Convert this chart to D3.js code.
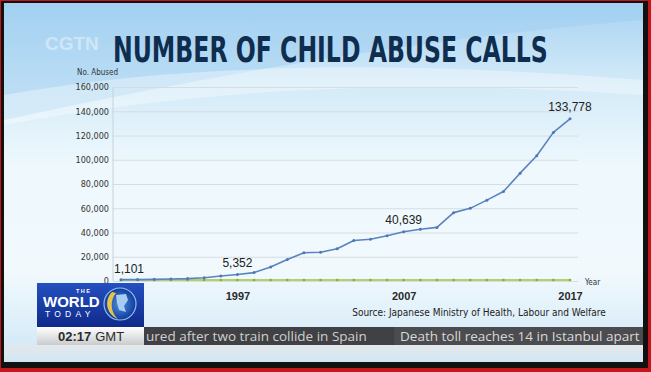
<!DOCTYPE html>
<html>
<head>
<meta charset="utf-8">
<script src="https://cdn.jsdelivr.net/npm/d3@7"></script>
<style>
  body { margin: 0; background: #000; }
  svg { display: block; }
</style>
</head>
<body>
<div id="chart"></div>
<script>
var years = [1990, 1991, 1992, 1993, 1994, 1995, 1996, 1997, 1998, 1999,
             2000, 2001, 2002, 2003, 2004, 2005, 2006, 2007, 2008, 2009,
             2010, 2011, 2012, 2013, 2014, 2015, 2016, 2017];
var calls = [1101, 1171, 1372, 1611, 1961, 2722, 4102, 5352, 6932, 11631,
             17725, 23274, 23738, 26569, 33408, 34472, 37323, 40639, 42664, 44211,
             56384, 59919, 66701, 73802, 88931, 103286, 122575, 133778];
// flat green series along the baseline
var baseline = [0, 0, 0, 0, 0, 0, 0, 0, 0, 0,
                0, 0, 0, 0, 0, 0, 0, 0, 0, 0,
                0, 0, 0, 0, 0, 0, 0, 0];
var yTicks = [0, 20000, 40000, 60000, 80000, 100000, 120000, 140000, 160000];
var xTicks = [1997, 2007, 2017];
var labelYears = [1990, 1997, 2007, 2017];

var title = "NUMBER OF CHILD ABUSE CALLS";
var source = "Source: Japanese Ministry of Health, Labour and Welfare";
var ticker1 = "ured after two train collide in Spain";
var ticker2 = "Death toll reaches 14 in Istanbul apart";

var W = 651, H = 372;
var narrow = "'Liberation Sans Narrow', 'DejaVu Sans Condensed', 'Arial Narrow', sans-serif";
var sans = "'Liberation Sans', Arial, sans-serif";

var svg = d3.select("#chart").append("svg")
    .attr("width", W).attr("height", H);

var defs = svg.append("defs");

var bg = defs.append("linearGradient").attr("id", "bg")
    .attr("x1", 0).attr("y1", 0).attr("x2", 0).attr("y2", 1);
bg.append("stop").attr("offset", "0%").attr("stop-color", "#a9d3f3");
bg.append("stop").attr("offset", "22%").attr("stop-color", "#d2eaf8");
bg.append("stop").attr("offset", "45%").attr("stop-color", "#eef8fd");
bg.append("stop").attr("offset", "75%").attr("stop-color", "#f1f9fd");
bg.append("stop").attr("offset", "100%").attr("stop-color", "#cfe7f6");

var logoGrad = defs.append("linearGradient").attr("id", "logoGrad")
    .attr("x1", 0).attr("y1", 0).attr("x2", 0).attr("y2", 1);
logoGrad.append("stop").attr("offset", "0%").attr("stop-color", "#2450c0");
logoGrad.append("stop").attr("offset", "100%").attr("stop-color", "#0f2a8a");

var timeGrad = defs.append("linearGradient").attr("id", "timeGrad")
    .attr("x1", 0).attr("y1", 0).attr("x2", 0).attr("y2", 1);
timeGrad.append("stop").attr("offset", "0%").attr("stop-color", "#ffffff");
timeGrad.append("stop").attr("offset", "100%").attr("stop-color", "#c9cbcd");

var globeGrad = defs.append("radialGradient").attr("id", "globeGrad");
globeGrad.append("stop").attr("offset", "0%").attr("stop-color", "#4d8fe0");
globeGrad.append("stop").attr("offset", "100%").attr("stop-color", "#123a9a");

var underGrad = defs.append("linearGradient").attr("id", "underGrad")
    .attr("x1", 0).attr("y1", 0).attr("x2", 0).attr("y2", 1);
underGrad.append("stop").attr("offset", "0%").attr("stop-color", "#e4e8ea");
underGrad.append("stop").attr("offset", "100%").attr("stop-color", "#cfe7f6");

// tv frame
svg.append("rect").attr("width", W).attr("height", H).attr("fill", "#c4161c");
svg.append("rect").attr("x", 1).attr("y", 1).attr("width", 647).attr("height", 367).attr("fill", "#111");
svg.append("rect").attr("x", 4).attr("y", 3).attr("width", 639).attr("height", 359).attr("fill", "url(#bg)");

// soft swoosh behind the title
svg.append("path")
    .attr("d", "M4,3 L643,3 L643,20 C520,30 300,55 4,120 Z")
    .attr("fill", "#9ccbf0").attr("opacity", 0.45);
svg.append("path")
    .attr("d", "M4,95 C200,60 420,62 643,80 L643,95 C420,80 220,85 4,125 Z")
    .attr("fill", "#ffffff").attr("opacity", 0.35);

// watermark
svg.append("text")
    .attr("x", 45).attr("y", 50)
    .attr("font-family", sans).attr("font-weight", "bold").attr("font-size", 19)
    .attr("fill", "#ffffff").attr("opacity", 0.4)
    .text("CGTN");

// title, squeezed horizontally to the width it has on screen
var titleText = svg.append("text")
    .attr("x", 0).attr("y", 0)
    .attr("font-family", narrow).attr("font-weight", "bold").attr("font-size", 35)
    .attr("fill", "#0f2d4f")
    .text(title);
var tLen = titleText.node().getComputedTextLength();
titleText.attr("transform", "translate(113,62) scale(" + (435 / tLen) + ",1)");

var margin = {top: 87, left: 113},
    width = 465,
    height = 194,
    g = svg.append("g").attr("transform", "translate(" + margin.left + "," + margin.top + ")");

var x = d3.scaleLinear().domain([1990, 2017]).range([8, 457]);
var y = d3.scaleLinear().domain([0, 160000]).range([height, 0]);

// y axis with gridlines
var yAxis = g.append("g")
    .call(d3.axisLeft(y).tickValues(yTicks).tickSize(-width).tickPadding(4)
        .tickFormat(d3.format(",")));
yAxis.select(".domain").remove();
yAxis.selectAll(".tick line").attr("stroke", "#d6dde2");
yAxis.selectAll(".tick text")
    .attr("font-family", narrow).attr("font-size", 9).attr("fill", "#333");

g.append("line")
    .attr("x1", 0).attr("x2", 0).attr("y1", 0).attr("y2", height)
    .attr("stroke", "#c9d2d8");

svg.append("text")
    .attr("x", 77).attr("y", 75)
    .attr("font-family", narrow).attr("font-size", 8).attr("fill", "#333")
    .text("No. Abused");

// x axis: only three year labels
var xAxis = g.append("g")
    .attr("transform", "translate(0," + height + ")")
    .call(d3.axisBottom(x).tickValues(xTicks).tickSize(0).tickPadding(11)
        .tickFormat(d3.format("d")));
xAxis.select(".domain").remove();
xAxis.selectAll(".tick text")
    .attr("font-family", sans).attr("font-weight", "bold").attr("font-size", 11)
    .attr("fill", "#2a2a2a");

g.append("text")
    .attr("x", x(2017) + 15).attr("y", height + 4)
    .attr("font-family", narrow).attr("font-size", 8).attr("fill", "#333")
    .text("Year");

var rows = years.map(function(d, i) { return {year: d, calls: calls[i], base: baseline[i]}; });

// green baseline series
g.append("path")
    .datum(rows)
    .attr("fill", "none").attr("stroke", "#9cc63c").attr("stroke-width", 1.6)
    .attr("d", d3.line().x(function(d) { return x(d.year); }).y(function(d) { return y(d.base) - 1; }));
g.selectAll(".gdot").data(rows).enter().append("circle")
    .attr("class", "gdot")
    .attr("cx", function(d) { return x(d.year); })
    .attr("cy", function(d) { return y(d.base) - 1; })
    .attr("r", 1.3).attr("fill", "#86b12a");

// blue calls series
g.append("path")
    .datum(rows)
    .attr("fill", "none").attr("stroke", "#5a83c0").attr("stroke-width", 1.6)
    .attr("stroke-linejoin", "round")
    .attr("d", d3.line().x(function(d) { return x(d.year); }).y(function(d) { return y(d.calls); }));
g.selectAll(".bdot").data(rows).enter().append("circle")
    .attr("class", "bdot")
    .attr("cx", function(d) { return x(d.year); })
    .attr("cy", function(d) { return y(d.calls); })
    .attr("r", 1.5).attr("fill", "#4f78b6");

// value labels
g.selectAll(".vlabel")
    .data(rows.filter(function(d) { return labelYears.indexOf(d.year) >= 0; }))
    .enter().append("text")
    .attr("class", "vlabel")
    .attr("x", function(d, i) { return i === 0 ? x(d.year) - 7 : x(d.year); })
    .attr("y", function(d, i) { return i === 0 ? y(d.calls) - 7 : y(d.calls) - 8; })
    .attr("text-anchor", function(d, i) { return i === 0 ? "start" : "middle"; })
    .attr("font-family", sans).attr("font-size", 12).attr("fill", "#222")
    .text(function(d) { return d3.format(",")(d.calls); });

// source
svg.append("text")
    .attr("x", 479).attr("y", 316)
    .attr("text-anchor", "middle")
    .attr("font-family", narrow).attr("font-size", 10).attr("fill", "#222")
    .text(source);

// ticker strip
svg.append("rect").attr("x", 4).attr("y", 345).attr("width", 639).attr("height", 17).attr("fill", "url(#underGrad)");
svg.append("rect").attr("x", 144).attr("y", 327).attr("width", 499).attr("height", 18).attr("fill", "#4a4c4f");
svg.append("rect").attr("x", 144).attr("y", 327).attr("width", 250).attr("height", 18).attr("fill", "#3f4144");
svg.append("text")
    .attr("x", 146).attr("y", 341)
    .attr("font-family", "'Open Sans', sans-serif").attr("font-size", 13.5).attr("fill", "#d0d0d0")
    .text(ticker1);
svg.append("text")
    .attr("x", 400).attr("y", 341)
    .attr("font-family", "'Open Sans', sans-serif").attr("font-size", 13.5).attr("fill", "#d8d8d8")
    .text(ticker2);

// show logo
var logo = svg.append("g");
logo.append("rect").attr("x", 37).attr("y", 283).attr("width", 107).attr("height", 44).attr("fill", "url(#logoGrad)");
logo.append("text").attr("x", 76).attr("y", 293)
    .attr("font-family", sans).attr("font-weight", "bold").attr("font-size", 5.5)
    .attr("fill", "#fff").attr("letter-spacing", 1.5).text("THE");
logo.append("text").attr("x", 43).attr("y", 307)
    .attr("font-family", sans).attr("font-weight", "900").attr("font-size", 15)
    .attr("fill", "#fff").text("WORLD");
logo.append("text").attr("x", 45).attr("y", 317)
    .attr("font-family", sans).attr("font-size", 8.5)
    .attr("fill", "#fff").attr("letter-spacing", 4.2).text("TODAY");
logo.append("circle").attr("cx", 120).attr("cy", 304).attr("r", 16)
    .attr("fill", "url(#globeGrad)").attr("stroke", "#8fc0f0").attr("stroke-width", 1.2);
logo.append("path")
    .attr("d", "M112,292 C104,300 106,314 118,319 C110,312 110,300 116,293 Z")
    .attr("fill", "#e8c34a");
logo.append("path")
    .attr("d", "M116,295 L126,294 L128,300 L124,306 L126,312 L119,310 L117,303 Z")
    .attr("fill", "#a9cdf2");

// clock
svg.append("rect").attr("x", 37).attr("y", 327).attr("width", 107).attr("height", 18).attr("fill", "url(#timeGrad)");
var clock = svg.append("text").attr("x", 58).attr("y", 341)
    .attr("font-family", sans).attr("font-size", 13).attr("fill", "#2b2b2b");
clock.append("tspan").attr("font-weight", "bold").text("02:17");
clock.append("tspan").attr("dx", 4).text("GMT");
</script>
</body>
</html>
